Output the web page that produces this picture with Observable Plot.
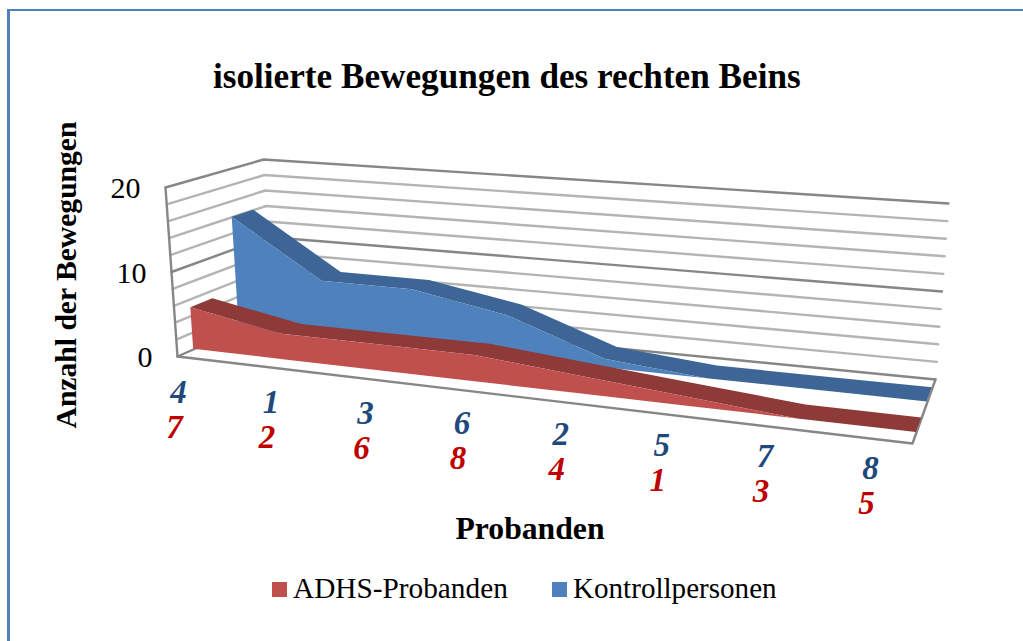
<!DOCTYPE html>
<html lang="de">
<head>
<meta charset="utf-8">
<script src="https://cdn.jsdelivr.net/npm/d3@7"></script>
<script src="https://cdn.jsdelivr.net/npm/@observablehq/plot@0.6"></script>
<style>
html,body{margin:0;padding:0;background:#fff;overflow:hidden}
#frame{position:absolute;left:7px;top:9px;right:0;bottom:0;border-top:2px solid #4F81BD;border-left:3px solid #4F81BD;box-sizing:border-box}
#chart{position:absolute;left:0;top:0}
.t{position:absolute;font-family:"Liberation Serif",serif;color:#000;white-space:nowrap;line-height:1}
.swatch{position:absolute;width:15px;height:15px}
</style>
</head>
<body>
<div id="frame"></div>
<div id="chart"></div>
<div class="t" style="left:213px;top:59px;font-size:35.2px;font-weight:bold">isolierte Bewegungen des rechten Beins</div>
<div class="t" style="left:67px;top:275px;font-size:29.6px;font-weight:bold;transform:translate(-50%,-50%) rotate(-90deg)">Anzahl der Bewegungen</div>
<div class="t" style="left:530px;top:529px;font-size:31.7px;font-weight:bold;transform:translate(-50%,-50%)">Probanden</div>
<div class="swatch" style="left:272px;top:582px;background:#C0504D"></div>
<div class="t" style="left:293px;top:574px;font-size:29.3px">ADHS-Probanden</div>
<div class="swatch" style="left:552px;top:582px;background:#4F81BD"></div>
<div class="t" style="left:573px;top:574px;font-size:29.1px">Kontrollpersonen</div>
<script>
// Data
const adhsValues = [5, 3, 3, 3, 2, 1, 0, 0];
const kontrollValues = [14, 7, 7, 5, 1, 0, 0, 0];
const adhsLabels = ["7", "2", "6", "8", "4", "1", "3", "5"];
const kontrollLabels = ["4", "1", "3", "6", "2", "5", "7", "8"];
const gridValues = [0, 2, 4, 6, 8, 10, 12, 14, 16, 18, 20];
const tickValues = [0, 10, 20];

// Oblique view of the 3D box: corners of floor and ceiling in the chart's frame
const floorCorners = {fl: [177, 356], fr: [912, 443], bl: [272, 314], br: [935, 379]};
const topCorners = {fl: [165, 187], fr: [927, 250], bl: [263, 159], br: [948, 203]};
const n = adhsValues.length - 1;
const warp = (u, k) => u / (k - (k - 1) * u);
const bilin = (c, u, t, j) =>
  (1 - t) * ((1 - u) * c.fl[j] + u * c.fr[j]) + t * ((1 - u) * c.bl[j] + u * c.br[j]);
function project(i, t, v) {
  const u = warp(i / n, 1.177), h = v / 20;
  return [0, 1].map(j => (1 - h) * bilin(floorCorners, u, t, j) + h * bilin(topCorners, u, t, j));
}

const slab = (values, t1, t2) => values.map((v, i) => ({
  top: project(i, t1, v), bottom: project(i, t1, 0), back: project(i, t2, v)
}));
const adhs = slab(adhsValues, 0.17, 0.40);
const kontroll = slab(kontrollValues, 0.65, 0.87);

const wall = gridValues.flatMap(v => [
  {v, p: project(0, 0, v)}, {v, p: project(0, 1, v)}, {v, p: project(n, 1, v)}
]);
const floorFront = [project(0, 0, 0), project(n, 0, 0), project(n, 1, 0)];
const wallEdge = [project(0, 0, 0), project(0, 0, 20)];
const ticks = tickValues.map(v => ({v, p: project(0, 0, v)}));

// Category labels run along their own line below the front edge
const labelStart = [178, 392], labelEnd = [870, 468];
const labelPos = (i, dx, dy) => {
  const u = warp(i / n, 1.08);
  return [labelStart[0] + u * (labelEnd[0] - labelStart[0]) + dx, labelStart[1] + u * (labelEnd[1] - labelStart[1]) + dy];
};

const slabMarks = (rows, face, top) => [
  Plot.area(rows, {x1: d => d.top[0], y1: d => d.top[1], x2: d => d.back[0], y2: d => d.back[1], fill: top}),
  Plot.area(rows, {x1: d => d.top[0], y1: d => d.top[1], x2: d => d.bottom[0], y2: d => d.bottom[1], fill: face})
];
const labelMark = (labels, dx, dy, color) => Plot.text(labels, {
  x: (d, i) => labelPos(i, dx, dy)[0], y: (d, i) => labelPos(i, dx, dy)[1], text: d => d,
  fill: color, fontSize: 33, fontWeight: "bold", fontStyle: "italic", fontFamily: "Liberation Serif, serif"
});

const plot = Plot.plot({
  width: 1023, height: 641, margin: 0,
  x: {domain: [0, 1023], range: [0, 1023], axis: null},
  y: {domain: [0, 641], range: [0, 641], axis: null},
  marks: [
    Plot.line(wall, {x: d => d.p[0], y: d => d.p[1], z: "v",
      stroke: d => d.v % 10 === 0 ? "#868686" : "#b4b4b4", strokeWidth: 2.4}),
    Plot.line(wallEdge, {x: d => d[0], y: d => d[1], stroke: "#868686", strokeWidth: 2.4}),
    ...slabMarks(kontroll, "#4F81BD", "#3D6696"),
    Plot.line(floorFront, {x: d => d[0], y: d => d[1], stroke: "#868686", strokeWidth: 2.4}),
    ...slabMarks(adhs, "#C0504D", "#8E3A38"),
    Plot.text(ticks, {x: d => d.p[0], y: d => d.p[1], text: d => String(d.v), dx: -25, dy: 1, textAnchor: "end",
      fill: "#000", fontSize: 30, fontFamily: "Liberation Serif, serif"}),
    labelMark(kontrollLabels, 0, 0, "#1F497D"),
    labelMark(adhsLabels, -4, 35, "#C00000")
  ]
});
plot.style.background = "none";
document.getElementById("chart").append(plot);
</script>
</body>
</html>
